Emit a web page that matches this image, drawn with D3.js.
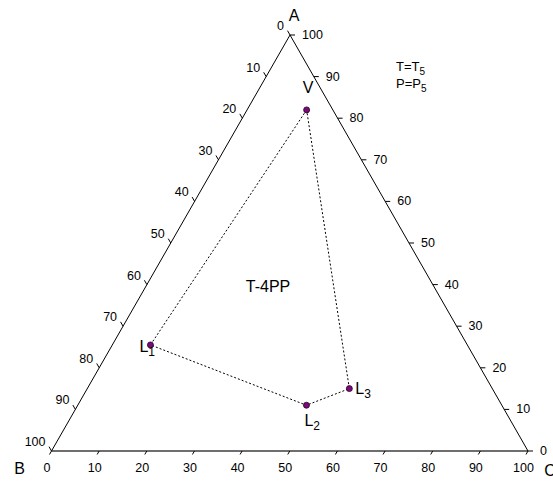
<!DOCTYPE html>
<html>
<head>
<meta charset="utf-8">
<script src="https://cdn.jsdelivr.net/npm/d3@7/dist/d3.min.js"></script>
<style>
  html, body { margin: 0; padding: 0; background: #fff; }
  svg { display: block; font-family: "Liberation Sans", Arial, Helvetica, sans-serif; }
</style>
</head>
<body>
<svg id="chart" width="553" height="484"></svg>
<script>
// Phase compositions (percent of A, B, C)
const pointNames = ["V", "L1", "L2", "L3"];
const compA = [82, 25.5, 11, 15];
const compB = [5.5, 66.5, 41, 30];
const compC = [12.5, 8, 48, 55];
// Tie-line polygon order
const tieOrder = [0, 1, 2, 3, 0];
// Axis ticks
const tickValues = [0, 10, 20, 30, 40, 50, 60, 70, 80, 90, 100];
const tickLabels = ["0", "10", "20", "30", "40", "50", "60", "70", "80", "90", "100"];
const vertexNames = ["A", "B", "C"];

const svg = d3.select("#chart");

// Triangle corners in screen space
const vA = [290, 35], vB = [51.5, 451], vC = [528, 451];

// Fraction scale shared by all three axes
const frac = d3.scaleLinear().domain([0, 100]).range([0, 1]);
// Edge scales
const lerp = (p, q, t) => [p[0] + (q[0] - p[0]) * t, p[1] + (q[1] - p[1]) * t];
const bottomPos = v => lerp(vB, vC, frac(v));   // C content along B->C
const rightPos = v => lerp(vC, vA, frac(v));    // A content along C->A
const leftPos = v => lerp(vA, vB, frac(v));     // B content along A->B

function project(a, b, c) {
  const s = a + b + c;
  const fa = frac(a * 100 / s), fb = frac(b * 100 / s), fc = frac(c * 100 / s);
  return [vA[0] * fa + vB[0] * fb + vC[0] * fc, vA[1] * fa + vB[1] * fb + vC[1] * fc];
}

// Triangle edges
svg.append("line")
  .attr("x1", vB[0]).attr("y1", vB[1]).attr("x2", vC[0]).attr("y2", vC[1])
  .attr("stroke", "#6e6e6e").attr("stroke-width", 1.8);
svg.append("line")
  .attr("x1", vA[0]).attr("y1", vA[1]).attr("x2", vB[0]).attr("y2", vB[1])
  .attr("stroke", "#000").attr("stroke-width", 1);
svg.append("line")
  .attr("x1", vC[0]).attr("y1", vC[1]).attr("x2", vA[0]).attr("y2", vA[1])
  .attr("stroke", "#000").attr("stroke-width", 1);

// Tick directions follow the grid lines of each component
const len = Math.hypot(vB[0] - vA[0], vB[1] - vA[1]);
const dirDownLeft = [(vB[0] - vA[0]) / len, (vB[1] - vA[1]) / len];
const lenCA = Math.hypot(vA[0] - vC[0], vA[1] - vC[1]);
const dirUpLeft = [(vA[0] - vC[0]) / lenCA, (vA[1] - vC[1]) / lenCA];

const ticks = svg.append("g").attr("stroke", "#000").attr("stroke-width", 1);
const labels = svg.append("g").attr("font-size", 12.5).attr("fill", "#000");

tickValues.forEach((v, i) => {
  // bottom (C)
  const pb = bottomPos(v);
  ticks.append("line")
    .attr("x1", pb[0]).attr("y1", pb[1])
    .attr("x2", pb[0] + dirDownLeft[0] * 4).attr("y2", pb[1] + dirDownLeft[1] * 4);
  labels.append("text")
    .attr("x", pb[0] - 4.5).attr("y", pb[1] + 17)
    .attr("text-anchor", "middle").attr("dominant-baseline", "central")
    .text(tickLabels[i]);

  // right (A)
  const pr = rightPos(v);
  ticks.append("line")
    .attr("x1", pr[0]).attr("y1", pr[1])
    .attr("x2", pr[0] + 5).attr("y2", pr[1]);
  labels.append("text")
    .attr("x", pr[0] + 12).attr("y", pr[1])
    .attr("text-anchor", "start").attr("dominant-baseline", "central")
    .text(tickLabels[i]);

  // left (B)
  const pl = leftPos(v);
  ticks.append("line")
    .attr("x1", pl[0]).attr("y1", pl[1])
    .attr("x2", pl[0] + dirUpLeft[0] * 5).attr("y2", pl[1] + dirUpLeft[1] * 5);
  labels.append("text")
    .attr("x", pl[0] - 6).attr("y", pl[1] - 9)
    .attr("text-anchor", "end").attr("dominant-baseline", "central")
    .text(tickLabels[i]);
});

// Vertex names
const vertexLabelPos = [[vA[0] + 4, vA[1] - 20], [vB[0] - 32, vB[1] + 17], [vC[0] + 22, vC[1] + 19]];
vertexNames.forEach((n, i) => {
  svg.append("text")
    .attr("x", vertexLabelPos[i][0]).attr("y", vertexLabelPos[i][1])
    .attr("text-anchor", "middle").attr("dominant-baseline", "central")
    .attr("font-size", 16).text(n);
});

// Tie lines
const pts = pointNames.map((n, i) => project(compA[i], compB[i], compC[i]));
const line = d3.line();
svg.append("path")
  .attr("d", line(tieOrder.map(i => pts[i])))
  .attr("fill", "none").attr("stroke", "#000").attr("stroke-width", 1)
  .attr("stroke-dasharray", "2,2");

// Phase points
svg.append("g").selectAll("circle").data(pts).join("circle")
  .attr("cx", d => d[0]).attr("cy", d => d[1]).attr("r", 3)
  .attr("fill", "#7a0a7a").attr("stroke", "#2a002a").attr("stroke-width", 0.8);

// Phase labels
const labelOffsets = [[-4, -17, "V"], [-11, 7, "L"], [-2, 21, "L"], [6, 5, "L"]];
pointNames.forEach((n, i) => {
  const [dx, dy, main] = labelOffsets[i];
  const t = svg.append("text")
    .attr("x", pts[i][0] + dx).attr("y", pts[i][1] + dy)
    .attr("font-size", 16);
  t.append("tspan").text(main);
  if (n.length > 1) {
    t.append("tspan").attr("dy", 4).attr("font-size", 12).text(n.slice(1));
  }
});

// Annotations
svg.append("text").attr("x", 268).attr("y", 286)
  .attr("text-anchor", "middle").attr("dominant-baseline", "central")
  .attr("font-size", 16).text("T-4PP");

const cond = [["T=T", "5"], ["P=P", "5"]];
cond.forEach((c, i) => {
  const t = svg.append("text").attr("x", 396).attr("y", 71 + i * 17).attr("font-size", 13);
  t.append("tspan").text(c[0]);
  t.append("tspan").attr("dy", 4).attr("font-size", 10).text(c[1]);
});
</script>
</body>
</html>
